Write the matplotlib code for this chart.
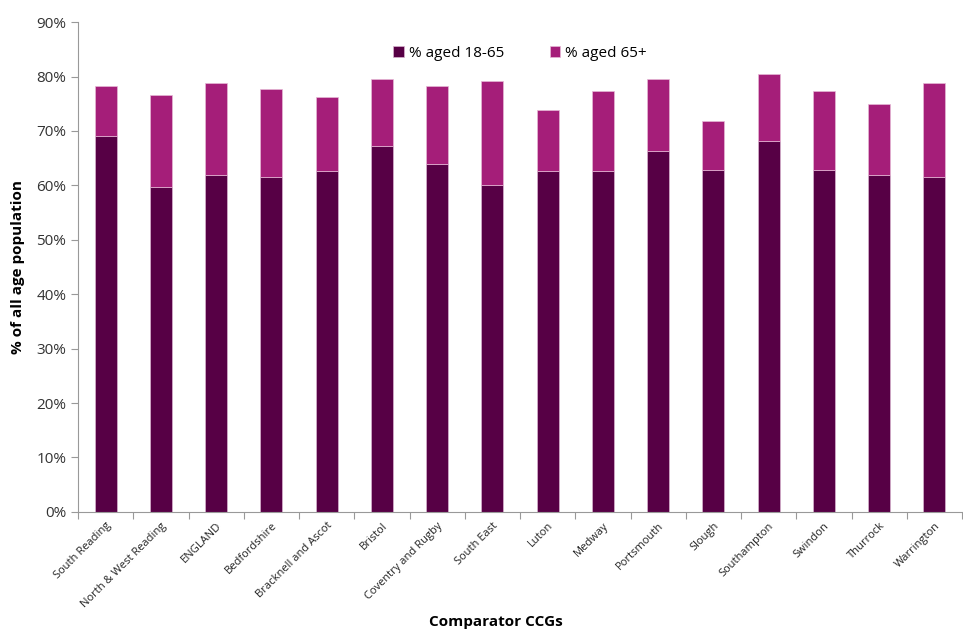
import numpy as np
import matplotlib.pyplot as plt
from matplotlib.ticker import PercentFormatter

plt.rcParams['font.family'] = ['Open Sans', 'DejaVu Sans']

ccgs = ['South Reading', 'North & West Reading', 'ENGLAND', 'Bedfordshire',
        'Bracknell and Ascot', 'Bristol', 'Coventry and Rugby', 'South East',
        'Luton', 'Medway', 'Portsmouth', 'Slough', 'Southampton', 'Swindon',
        'Thurrock', 'Warrington']
aged_18_65 = [69.1, 59.7, 62.0, 61.6, 62.6, 67.2, 63.9, 60.1,
              62.6, 62.6, 66.4, 62.9, 68.1, 62.8, 62.0, 61.6]
total = [78.2, 76.7, 78.8, 77.8, 76.3, 79.6, 78.2, 79.1,
         73.8, 77.3, 79.6, 71.9, 80.5, 77.3, 75.0, 78.8]
aged_65_plus = list(np.array(total) - np.array(aged_18_65))

dark = '#570045'
light = '#A51E79'

fig = plt.figure(figsize=(9.63, 6.32), dpi=100)
ax = fig.add_axes([0.081, 0.19, 0.918, 0.775])

x = np.arange(len(ccgs))
ax.bar(x, aged_18_65, width=0.4, color=dark, edgecolor='#d9b3cf', linewidth=0.5,
       label='% aged 18-65')
ax.bar(x, aged_65_plus, width=0.4, bottom=aged_18_65, color=light, edgecolor='#e6b8d6',
       linewidth=0.5, label='% aged 65+')

ax.set_xlim(-0.5, len(ccgs) - 0.5)
ax.set_ylim(0, 90)
ax.set_yticks(np.arange(0, 91, 10))
ax.yaxis.set_major_formatter(PercentFormatter(decimals=0))

# ticks between categories, labels centred on bars
ax.set_xticks(np.arange(-0.5, len(ccgs), 1))
ax.set_xticklabels([])
ax.set_xticks(x, minor=True)
ax.set_xticklabels(ccgs, minor=True, rotation=45, ha='right', rotation_mode='anchor',
                   fontsize=8, color='#222222')
ax.tick_params(axis='x', which='minor', length=0, pad=6)
ax.tick_params(axis='x', which='major', length=5, color='#999999')
ax.tick_params(axis='y', length=5, color='#999999', labelsize=11, labelcolor='#333333')

for s in ['top', 'right']:
    ax.spines[s].set_visible(False)
for s in ['left', 'bottom']:
    ax.spines[s].set_color('#999999')

ax.set_ylabel('% of all age population', fontsize=11, fontweight='bold', labelpad=8)
fig.text(0.515, 0.016, 'Comparator CCGs', fontsize=11, fontweight='bold',
         ha='center', va='center')

ax.legend(loc='upper center', bbox_to_anchor=(0.5, 0.98), ncol=2, frameon=False,
          fontsize=11, handlelength=0.7, handleheight=0.7, handletextpad=0.3,
          columnspacing=3.0)

fig.savefig('out.png', dpi=100)
